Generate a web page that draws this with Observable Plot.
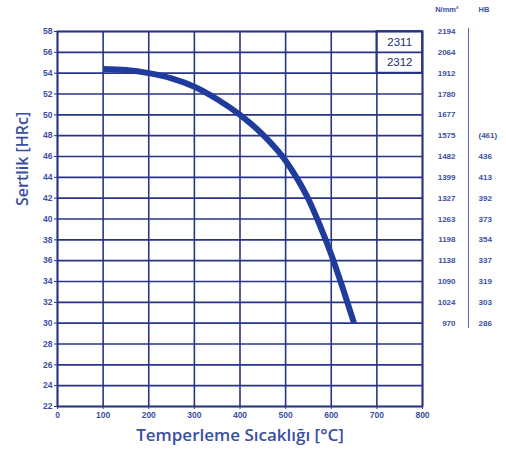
<!DOCTYPE html>
<html>
<head>
<meta charset="utf-8">
<script src="https://cdn.jsdelivr.net/npm/d3@7"></script>
<script src="https://cdn.jsdelivr.net/npm/@observablehq/plot@0.6"></script>
<style>
  html, body { margin: 0; padding: 0; background: #ffffff; }
  #chart svg { display: block; }
</style>
</head>
<body>
<div id="chart"></div>
<script>
// Tempering curve: hardness (HRc) versus tempering temperature (°C)
const temperature = [100, 150, 200, 250, 300, 350, 400, 450, 500, 525, 550, 575, 600, 625, 650];
const hardness    = [54.4, 54.3, 54.0, 53.5, 52.7, 51.5, 50.0, 48.1, 45.6, 43.9, 41.9, 39.4, 36.6, 33.4, 30.0];

// Axis ticks
const xTicks = [0, 100, 200, 300, 400, 500, 600, 700, 800];
const yTicks = [22, 24, 26, 28, 30, 32, 34, 36, 38, 40, 42, 44, 46, 48, 50, 52, 54, 56, 58];

// Conversion columns on the right: tensile strength (N/mm²) and Brinell (HB)
const tensileHrc = [58, 56, 54, 52, 50, 48, 46, 44, 42, 40, 38, 36, 34, 32, 30];
const tensile    = ["2194", "2064", "1912", "1780", "1677", "1575", "1482", "1399", "1327", "1263", "1198", "1138", "1090", "1024", "970"];
const brinellHrc = [48, 46, 44, 42, 40, 38, 36, 34, 32, 30];
const brinell    = ["(461)", "436", "413", "392", "373", "354", "337", "319", "303", "286"];

// Steel grade labels in the top-right cells
const grades     = ["2311", "2312"];
const gradeHrc   = [57, 55];

const curve = temperature.map((t, i) => ({t, h: hardness[i]}));
const tensileRows = tensileHrc.map((h, i) => ({h, label: tensile[i]}));
const brinellRows = brinellHrc.map((h, i) => ({h, label: brinell[i]}));
const gradeRows = grades.map((g, i) => ({g, h: gradeHrc[i]}));

const navy = "#283586";
const blue = "#1f3b9c";
const labelBlue = "#3a4f9f";
const tickFont = "Liberation Sans, Arial, sans-serif";

const chart = Plot.plot({
  width: 506,
  height: 458,
  marginLeft: 57,
  marginRight: 84,
  marginTop: 31,
  marginBottom: 52,
  style: {background: "#ffffff", fontFamily: tickFont},
  x: {domain: [0, 800], ticks: xTicks, label: null},
  y: {domain: [22, 58], ticks: yTicks, label: null},
  marks: [
    Plot.gridX(xTicks, {stroke: navy, strokeOpacity: 1, strokeWidth: 1.6}),
    Plot.gridY(yTicks, {stroke: navy, strokeOpacity: 1, strokeWidth: 1.6}),
    Plot.frame({stroke: navy, strokeWidth: 1.8}),
    Plot.axisX({
      ticks: xTicks, tickSize: 3, tickPadding: 2, stroke: navy,
      fill: labelBlue, fontSize: 8.5, fontWeight: "bold", label: null
    }),
    Plot.axisY({
      ticks: yTicks, tickSize: 3, tickPadding: 2, stroke: navy,
      fill: labelBlue, fontSize: 8.5, fontWeight: "bold", label: null
    }),
    // grade cells
    Plot.rect([0], {x1: 700, x2: 800, y1: 54, y2: 58, fill: "none", stroke: navy, strokeWidth: 1.8}),
    Plot.text(gradeRows, {
      x: 750, y: "h", text: "g", fill: "#1d2a6e", fontSize: 11.5,
      fontFamily: "Liberation Sans, Arial, sans-serif"
    }),
    // hardness curve
    Plot.line(curve, {
      x: "t", y: "h", curve: "monotone-x", stroke: blue,
      strokeWidth: 6, strokeLinecap: "butt"
    }),
    // conversion columns
    Plot.text(tensileRows, {
      x: 800, y: "h", text: "label", dx: 33, textAnchor: "end",
      fill: labelBlue, fontSize: 8, fontWeight: "bold"
    }),
    Plot.text(brinellRows, {
      x: 800, y: "h", text: "label", dx: 56, textAnchor: "start",
      fill: labelBlue, fontSize: 8, fontWeight: "bold"
    }),
    Plot.text(["N/mm²"], {
      x: 800, y: 58, dx: 36, dy: -22, textAnchor: "end",
      fill: labelBlue, fontSize: 7.5, fontWeight: "bold"
    }),
    Plot.text(["HB"], {
      x: 800, y: 58, dx: 56, dy: -22, textAnchor: "start",
      fill: labelBlue, fontSize: 7.5, fontWeight: "bold"
    }),
    Plot.ruleX([800], {dx: 46, y1: 29.5, y2: 58.3, stroke: "#5a64a8", strokeWidth: 1}),
    // axis titles
    Plot.text(["Temperleme Sıcaklığı [°C]"], {
      frameAnchor: "bottom", dy: 34, fill: labelBlue, fontSize: 17,
      fontFamily: "Open Sans, sans-serif", fontWeight: 600
    }),
    Plot.text(["Sertlik [HRc]"], {
      frameAnchor: "left", dx: -35, dy: -13, rotate: -90, fill: labelBlue, fontSize: 16,
      fontFamily: "Open Sans, sans-serif", fontWeight: 600
    })
  ]
});

document.getElementById("chart").appendChild(chart);
</script>
</body>
</html>
